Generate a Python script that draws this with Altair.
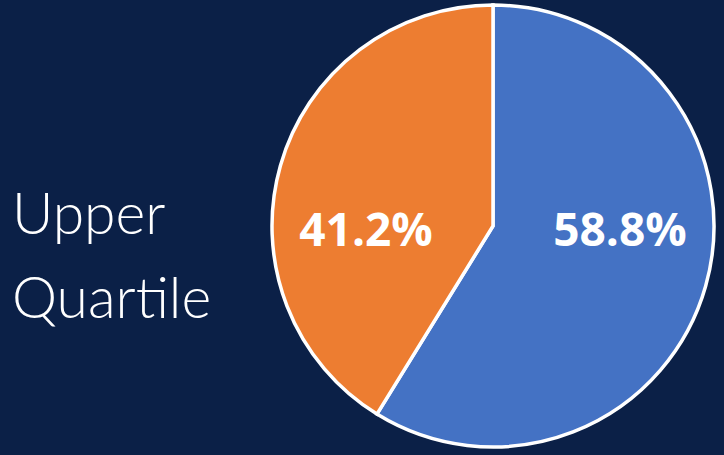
import altair as alt
import pandas as pd

categories = ["Blue", "Orange"]
values = [58.8, 41.2]
labels = ["58.8%", "41.2%"]
colors = ["#4472C4", "#ED7D31"]
order = [0, 1]
title_lines = ["Upper", "Quartile"]

df = pd.DataFrame({"cat": categories, "value": values, "label": labels, "order": order})

CX, CY, R = 493, 226, 221

base = alt.Chart(df).encode(
    theta=alt.Theta("value:Q", stack=True),
    order=alt.Order("order:Q"),
)

arcs = base.mark_arc(x=CX, y=CY, outerRadius=R, stroke="white", strokeWidth=3.5).encode(
    color=alt.Color("cat:N", scale=alt.Scale(domain=categories, range=colors), legend=None)
)

def label_layer(cat, dy):
    return base.mark_text(
        x=CX, y=CY, radius=132, dy=dy, font="Open Sans", fontWeight="bold",
        fontSize=46, color="white"
    ).encode(
        text="label:N",
        opacity=alt.condition(alt.datum.cat == cat, alt.value(1), alt.value(0)),
    )

text_blue = label_layer("Blue", -30)
text_orange = label_layer("Orange", 42)

side = alt.Chart(pd.DataFrame({"t": ["\n".join(title_lines)]})).mark_text(
    x=12, y=234, align="left", baseline="alphabetic", font="Lato", fontWeight=300,
    fontSize=57, lineHeight=84, lineBreak="\n", color="white"
).encode(text="t:N")

chart = alt.layer(arcs, text_blue, text_orange, side).properties(
    width=724, height=455, padding=0, autosize=alt.AutoSizeParams(type="none"),
    background="#0B2047"
).configure_view(stroke=None)

chart.save("out.html", embed_options={"renderer": "svg", "actions": False})
